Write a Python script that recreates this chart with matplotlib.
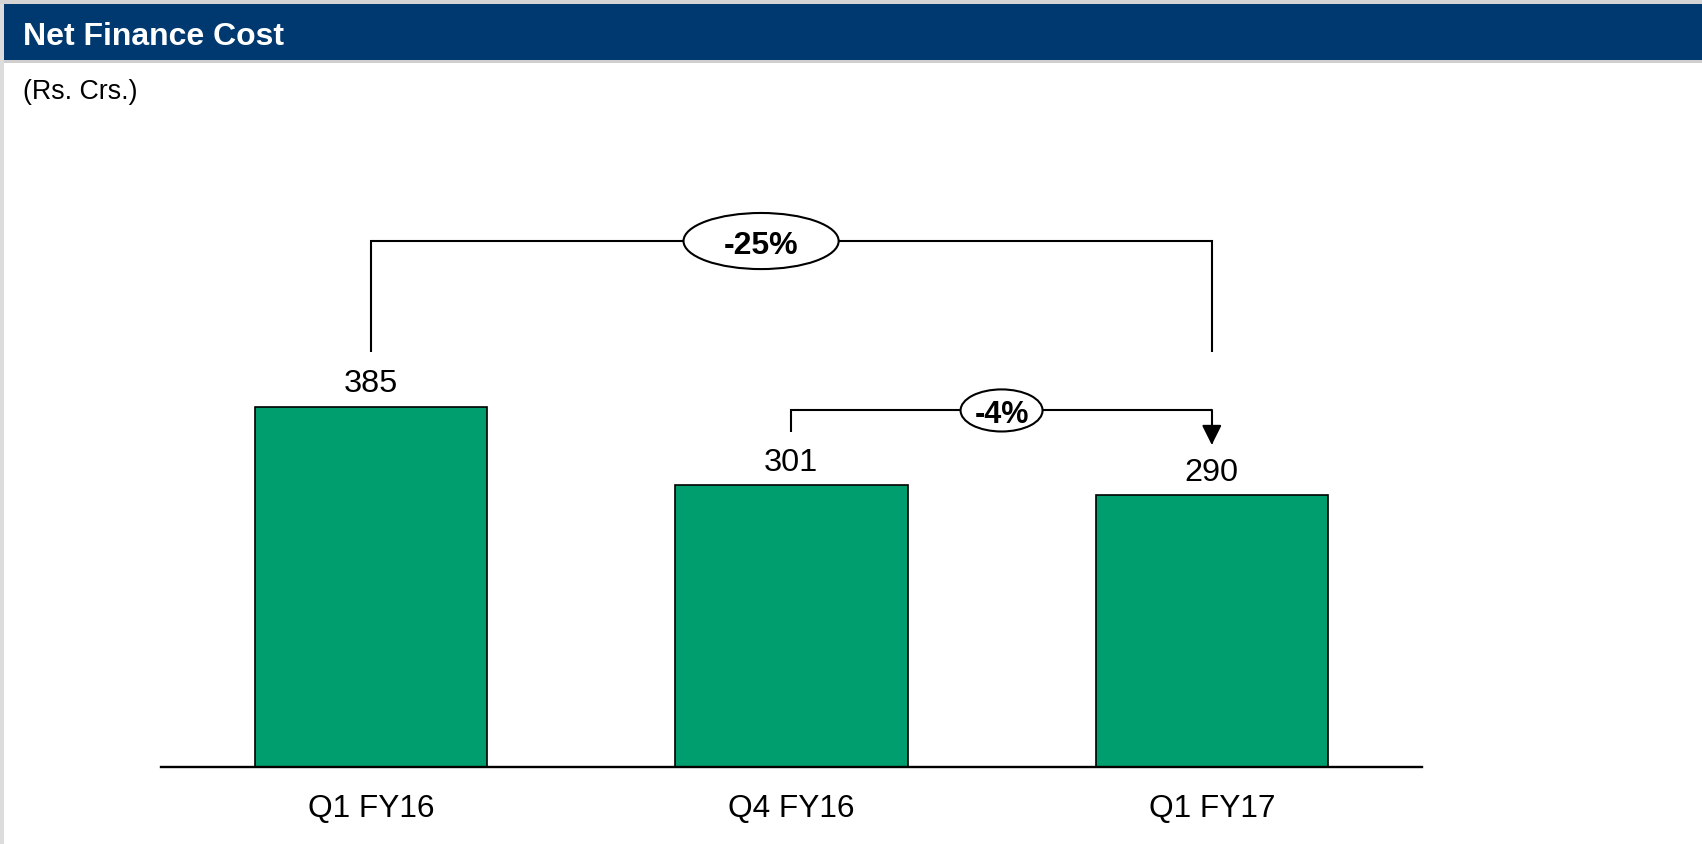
import matplotlib
matplotlib.use("Agg")
import matplotlib.pyplot as plt
from matplotlib.patches import Rectangle, Ellipse

plt.rcParams['font.family'] = ['Liberation Sans', 'DejaVu Sans']

# ---- data ----
categories = ["Q1 FY16", "Q4 FY16", "Q1 FY17"]
values = [385, 301, 290]
change_labels = ["-25%", "-4%"]
title = "Net Finance Cost"
unit_label = "(Rs. Crs.)"

BAR_COLOR = "#009E6E"
HEADER_COLOR = "#00396F"

W, H = 1702, 845
fig = plt.figure(figsize=(W / 100, H / 100), dpi=100)
fig.patch.set_facecolor("white")

# frame / header
fig.patches.append(Rectangle((0, 0), 4 / W, 1, transform=fig.transFigure,
                             facecolor="#dcdcdc", edgecolor="none", zorder=0))
fig.patches.append(Rectangle((0, 1 - 5 / H), 1, 5 / H, transform=fig.transFigure,
                             facecolor="#d4d4d4", edgecolor="none", zorder=0))
fig.patches.append(Rectangle((4 / W, 1 - 61 / H), 1 - 4 / W, 56 / H, transform=fig.transFigure,
                             facecolor=HEADER_COLOR, edgecolor="none", zorder=1))
fig.patches.append(Rectangle((4 / W, 1 - 64 / H), 1 - 4 / W, 3 / H, transform=fig.transFigure,
                             facecolor="#cfcfcf", edgecolor="none", zorder=1))
fig.text(23 / W, 1 - 45 / H, title, color="white", fontsize=23, fontweight="bold",
         va="baseline", ha="left")
fig.text(23 / W, 1 - 99 / H, unit_label, color="black", fontsize=19.3,
         va="baseline", ha="left")

# axes
ax_left = 160.7 / W
ax_width = (1422 - 160.7) / W
ax_bottom = (H - 767.5) / H
ymax = 700
px_per_unit = 0.935
ax_height = ymax * px_per_unit / H
ax = fig.add_axes([ax_left, ax_bottom, ax_width, ax_height])
ax.set_xlim(-0.5, len(categories) - 0.5)
ax.set_ylim(0, ymax)
ax.patch.set_alpha(0)
for s in ["top", "right", "left"]:
    ax.spines[s].set_visible(False)
ax.spines["bottom"].set_linewidth(1.7)
ax.set_yticks([])
ax.set_xticks([])

x = list(range(len(categories)))
ax.bar(x, values, width=0.553, color=BAR_COLOR, edgecolor="black", linewidth=1.2, zorder=2)

for xi, v, c in zip(x, values, categories):
    ax.annotate(str(v), (xi, v), xytext=(0, 11), textcoords="offset points",
                ha="center", va="baseline", fontsize=23.4)
    ax.annotate(c, (xi, 0), xytext=(0, -35.5), textcoords="offset points",
                ha="center", va="baseline", fontsize=22.8, annotation_clip=False)

lw = 1.5
# -25% bracket (Q1 FY16 -> Q1 FY17)
y_top = 562
y_low = 443
ax.plot([x[0], x[0], x[2], x[2]], [y_low, y_top, y_top, y_low], color="black", lw=lw,
        solid_joinstyle="miter", solid_capstyle="butt", clip_on=False, zorder=3)
e1 = Ellipse((0.928, y_top), 0.369, 60, facecolor="white", edgecolor="black", lw=lw,
             zorder=4, clip_on=False)
ax.add_patch(e1)
ax.text(0.928, y_top, change_labels[0], ha="center", va="center_baseline", fontsize=23,
        fontweight="bold", zorder=5)

# -4% bracket (Q4 FY16 -> Q1 FY17)
y2 = 380.8
ax.plot([x[1], x[1], x[2]], [357.3, y2, y2], color="black", lw=lw,
        solid_joinstyle="miter", solid_capstyle="butt", clip_on=False, zorder=3)
ax.annotate("", xy=(x[2], 344), xytext=(x[2] - 0.0035, y2),
            arrowprops=dict(arrowstyle="-|>,head_length=0.6,head_width=0.3",
                            mutation_scale=20, lw=lw, color="black",
                            shrinkA=0, shrinkB=0, connectionstyle="angle,angleA=0,angleB=90,rad=0"),
            zorder=3)
e2 = Ellipse((1.5, y2), 0.195, 45, facecolor="white", edgecolor="black", lw=lw,
             zorder=4, clip_on=False)
ax.add_patch(e2)
ax.text(1.5, y2, change_labels[1], ha="center", va="center_baseline", fontsize=22,
        fontweight="bold", zorder=5)

fig.savefig("out.png", dpi=100)
